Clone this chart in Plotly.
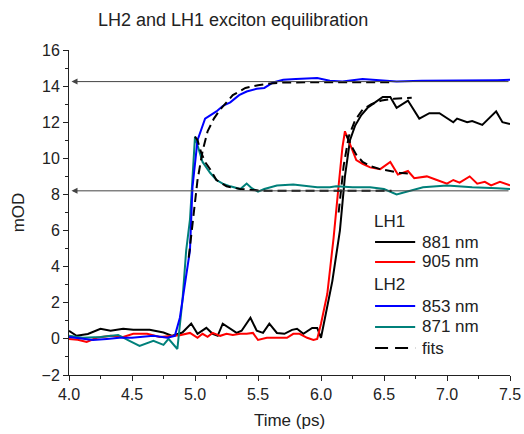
import plotly.graph_objects as go

# ---------------- data ----------------
t_881 = [4.0, 4.06, 4.15, 4.25, 4.33, 4.43, 4.51, 4.64, 4.75, 4.82, 4.9, 4.97, 5.02, 5.09, 5.14,
         5.18, 5.22, 5.28, 5.33, 5.37, 5.44, 5.49, 5.54, 5.59, 5.65, 5.71, 5.77, 5.81, 5.86, 5.93,
         5.97, 6.0, 6.05, 6.09, 6.15, 6.19, 6.23, 6.27, 6.32, 6.37, 6.41, 6.49, 6.55, 6.6, 6.69,
         6.78, 6.86, 6.94, 7.05, 7.08, 7.16, 7.2, 7.28, 7.39, 7.44, 7.5]
y_881 = [0.45, 0.17, 0.27, 0.56, 0.45, 0.56, 0.5, 0.5, 0.35, 0.17, 0.35, 0.85, 0.28, 0.61, 0.28,
         0.17, 0.84, 0.56, 0.33, 0.45, 1.17, 0.45, 0.33, 0.84, 0.33, 0.28, 0.5, 0.56, 0.28, 0.61,
         0.61, 0.06, 1.7, 3.2, 6.0, 9.0, 11.0, 11.8, 12.4, 12.8, 13.0, 13.4, 13.4, 12.8, 13.2,
         12.2, 12.5, 12.5, 12.0, 12.2, 12.0, 12.07, 11.85, 12.6, 12.0, 11.9]

t_905 = [4.0, 4.07, 4.14, 4.22, 4.33, 4.43, 4.51, 4.62, 4.72, 4.8, 4.88, 4.96, 5.02, 5.06, 5.1,
         5.14, 5.2, 5.25, 5.3, 5.36, 5.41, 5.46, 5.5, 5.57, 5.65, 5.73, 5.78, 5.83, 5.89, 5.94,
         5.97, 6.0, 6.05, 6.1, 6.14, 6.17, 6.19, 6.23, 6.28, 6.33, 6.39, 6.47, 6.55, 6.61, 6.69,
         6.74, 6.84, 6.92, 7.0, 7.05, 7.1, 7.18, 7.24, 7.3, 7.35, 7.42, 7.5]
y_905 = [0.0, -0.05, -0.17, 0.06, 0.17, 0.11, 0.28, 0.28, 0.11, 0.17, 0.2, 0.33, 0.06, 0.28, 0.11,
         0.33, 0.17, 0.28, 0.22, 0.28, 0.28, 0.33, -0.06, 0.06, 0.06, 0.06, 0.28, 0.28, 0.06, -0.06,
         0.0, 0.84, 2.5, 5.6, 8.5, 10.6, 11.5, 10.8, 9.9, 9.7, 9.5, 9.4, 9.8, 9.1, 9.3,
         8.9, 9.0, 8.8, 8.6, 8.8, 8.65, 9.0, 8.6, 8.7, 8.5, 8.7, 8.5]

t_853 = [4.0, 4.1, 4.19, 4.3, 4.4, 4.5, 4.6, 4.67, 4.78, 4.84, 4.88, 4.92, 4.96, 4.98, 5.02, 5.08,
         5.17, 5.22, 5.28, 5.35, 5.41, 5.49, 5.55, 5.62, 5.7, 5.8, 5.9, 5.97, 6.07, 6.17, 6.33,
         6.45, 6.6, 6.8, 7.0, 7.2, 7.4, 7.5]
y_853 = [0.11, 0.02, -0.06, 0.0, 0.06, 0.06, 0.1, 0.17, 0.06, 0.17, 1.17, 3.1, 4.9, 8.4, 11.0, 12.2,
         12.6, 12.9, 13.1, 13.5, 13.7, 13.85, 13.9, 14.2, 14.35, 14.4, 14.45, 14.45, 14.3, 14.25, 14.4,
         14.35, 14.25, 14.3, 14.3, 14.32, 14.33, 14.35]

t_871 = [4.0, 4.11, 4.25, 4.39, 4.48, 4.56, 4.67, 4.75, 4.79, 4.86, 4.9, 4.93, 4.96, 5.0, 5.06,
         5.12, 5.17, 5.22, 5.28, 5.36, 5.41, 5.45, 5.5, 5.55, 5.65, 5.78, 5.97, 6.07, 6.12, 6.25,
         6.39, 6.5, 6.6, 6.7, 6.81, 7.0, 7.2, 7.4, 7.5]
y_871 = [0.17, 0.06, 0.11, 0.22, -0.11, -0.39, -0.11, -0.33, 0.0, -0.56, 2.1, 4.9, 6.6, 11.2, 9.8,
         9.2, 8.8, 8.6, 8.45, 8.3, 8.6, 8.35, 8.15, 8.3, 8.5, 8.55, 8.4, 8.4, 8.45, 8.4,
         8.4, 8.3, 8.0, 8.2, 8.4, 8.5, 8.4, 8.35, 8.3]

# fits (dashed)
fit_t_881 = [6.14, 6.18, 6.22, 6.27, 6.33, 6.4, 6.48, 6.58, 6.72]
fit_y_881 = [7.0, 9.6, 11.2, 12.1, 12.7, 13.0, 13.2, 13.3, 13.35]
fit_t_905 = [6.2, 6.24, 6.28, 6.33, 6.4, 6.47, 6.55, 6.62, 6.7]
fit_y_905 = [11.3, 10.7, 10.2, 9.8, 9.55, 9.4, 9.3, 9.2, 9.15]
fit_t_853 = [4.95, 4.98, 5.02, 5.06, 5.1, 5.15, 5.2, 5.3, 5.4, 5.5, 5.6, 5.7, 5.8, 6.0, 6.2, 6.55]
fit_y_853 = [4.5, 6.5, 8.8, 10.4, 11.5, 12.2, 12.7, 13.5, 13.9, 14.05, 14.15, 14.2, 14.22, 14.22, 14.22, 14.22]
fit_t_871 = [5.0, 5.02, 5.05, 5.08, 5.12, 5.17, 5.25, 5.36, 5.45, 5.54, 5.7, 6.0, 6.3, 6.56]
fit_y_871 = [11.2, 11.0, 10.3, 9.8, 9.4, 8.8, 8.45, 8.3, 8.25, 8.2, 8.2, 8.2, 8.2, 8.2]

# equilibrium levels marked with arrows
plateaus = [14.25, 8.2]
arrow_from = 7.5
arrow_to = 4.02

series_names = ["881 nm", "905 nm", "853 nm", "871 nm"]
series_colors = ["#000000", "#ff0000", "#0000ff", "#00807a"]
legend_groups = ["LH1", "LH2"]
x_ticks = [4.0, 4.5, 5.0, 5.5, 6.0, 6.5, 7.0, 7.5]
y_ticks = [-2, 0, 2, 4, 6, 8, 10, 12, 14, 16]

FONT = "Liberation Sans, Arial, sans-serif"

fig = go.Figure()

data = [(t_881, y_881), (t_905, y_905), (t_871, y_871), (t_853, y_853)]
order = [0, 1, 3, 2]
for (tx, ty), idx in zip(data, order):
    fig.add_trace(go.Scatter(x=tx, y=ty, mode="lines", name=series_names[idx],
                             line=dict(color=series_colors[idx], width=2),
                             showlegend=False, hoverinfo="skip"))

for fx, fy in [(fit_t_881, fit_y_881), (fit_t_905, fit_y_905),
               (fit_t_853, fit_y_853), (fit_t_871, fit_y_871)]:
    fig.add_trace(go.Scatter(x=fx, y=fy, mode="lines", name="fits",
                             line=dict(color="#000000", width=2, dash="9px,5px"),
                             showlegend=False, hoverinfo="skip"))

annotations = []
for lvl in plateaus:
    annotations.append(dict(x=arrow_to, y=lvl, ax=arrow_from, ay=lvl,
                            xref="x", yref="y", axref="x", ayref="y",
                            text="", showarrow=True, arrowhead=2, arrowsize=1.2,
                            arrowwidth=1, arrowcolor="#444444"))

# manual legend (paper coordinates)
shapes = []
leg_x0, leg_x1, leg_tx = 0.694, 0.785, 0.796
rows = [("title", legend_groups[0]), ("line", 0), ("line", 1),
        ("title", legend_groups[1]), ("line", 2), ("line", 3), ("fit", "fits")]
row_y = [0.471, 0.409, 0.348, 0.28, 0.212, 0.148, 0.083]
for (kind, val), yy in zip(rows, row_y):
    if kind == "title":
        annotations.append(dict(x=0.688, y=yy, xref="paper", yref="paper", text=val,
                                showarrow=False, xanchor="left", yanchor="middle",
                                font=dict(family=FONT, size=17, color="#222")))
    else:
        if kind == "line":
            col = series_colors[val]
            label = series_names[val]
            dash = "solid"
        else:
            col = "#000000"
            label = val
            dash = "13px,7px"
        shapes.append(dict(type="line", xref="paper", yref="paper", x0=leg_x0, x1=leg_x1,
                           y0=yy, y1=yy, line=dict(color=col, width=2, dash=dash)))
        annotations.append(dict(x=leg_tx, y=yy, xref="paper", yref="paper", text=label,
                                showarrow=False, xanchor="left", yanchor="middle",
                                font=dict(family=FONT, size=17, color="#222")))

W, H = 524, 434
fig.update_layout(
    width=W, height=H,
    margin=dict(l=69, r=14, t=50, b=59, autoexpand=False),
    paper_bgcolor="white", plot_bgcolor="white",
    font=dict(family=FONT, size=16, color="#222"),
    title=dict(text="LH2 and LH1 exciton equilibration", x=98 / W, xanchor="left",
               xref="container", y=1 - 20 / H, yanchor="middle", automargin=False,
               font=dict(family=FONT, size=18, color="#222")),
    showlegend=False,
    hovermode=False,
    annotations=annotations,
    shapes=shapes,
)
fig.update_xaxes(range=[4.0, 7.5], tickvals=x_ticks, ticktext=[f"{v:.1f}" for v in x_ticks],
                 automargin=False,
                 showline=True, linecolor="#222", linewidth=1, ticks="outside", ticklen=5,
                 tickcolor="#222", showgrid=False, zeroline=False, ticklabeloverflow="allow",
                 minor=dict(dtick=0.25, ticks="outside", ticklen=3, tickcolor="#222", showgrid=False),
                 title=dict(text="Time (ps)", font=dict(family=FONT, size=17), standoff=11),
                 tickfont=dict(family=FONT, size=16))
fig.update_yaxes(range=[-2, 16], tickvals=y_ticks, automargin=False,
                 showline=True, linecolor="#222", linewidth=1, ticks="outside", ticklen=5,
                 tickcolor="#222", showgrid=False, zeroline=False,
                 minor=dict(dtick=1, ticks="outside", ticklen=3, tickcolor="#222", showgrid=False),
                 title=dict(text="mOD", font=dict(family=FONT, size=17), standoff=12),
                 tickfont=dict(family=FONT, size=16))

# remove the default 8px page margin so the figure fills the 524x434 window exactly
fig.write_html("out.html", config={"displayModeBar": False},
               post_script="document.body.style.margin='0';")
